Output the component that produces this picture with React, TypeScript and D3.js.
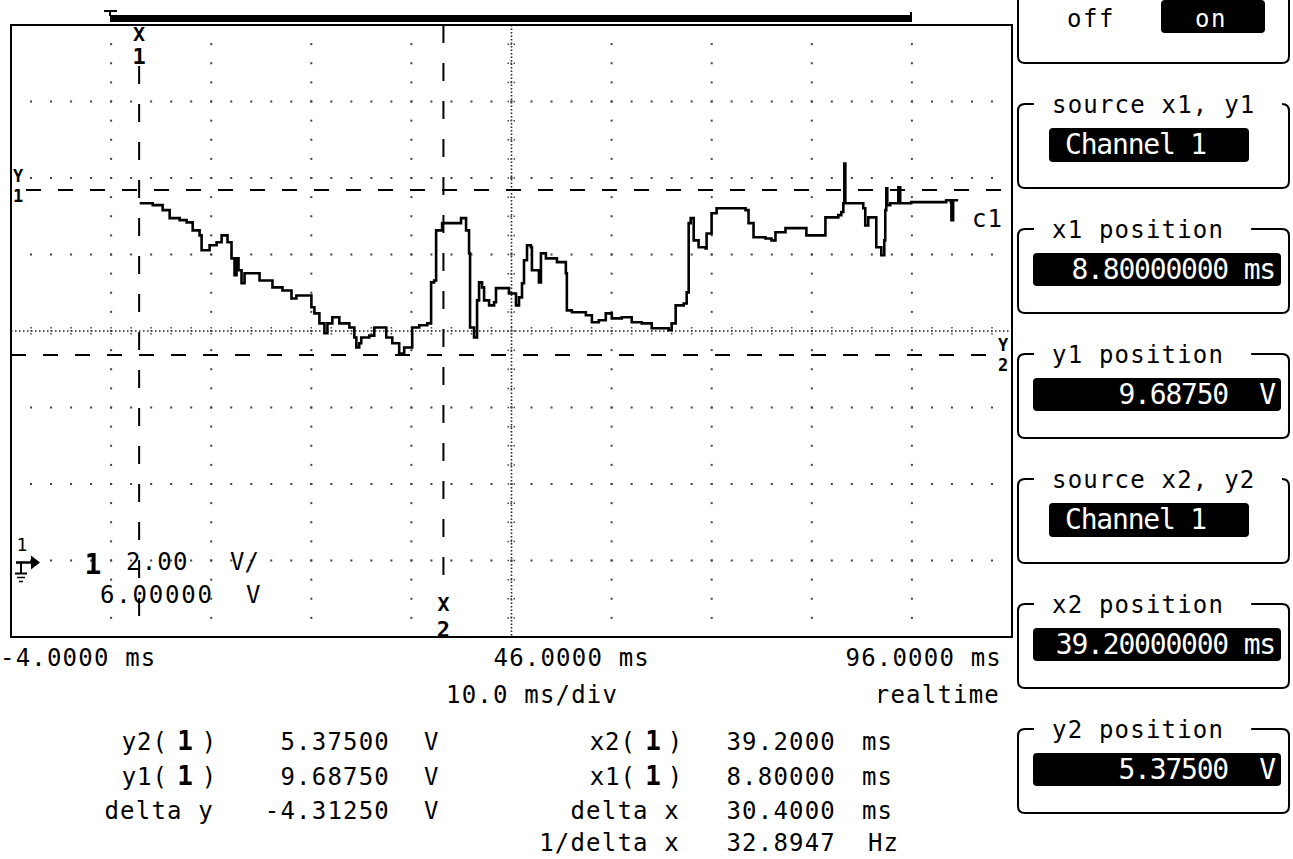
import * as d3 from 'd3'

const W = 1293
const H = 859
const plot = { left: 11, top: 25, right: 1012, bottom: 637 }
const FONT = "'DejaVu Sans Mono', 'Liberation Mono', monospace"

// scope settings: 10 ms/div starting at -4 ms, 2 V/div with 6 V offset
const timeDomain = [-4, 96]
const voltDomain = [-2, 14]
const divX = 10
const divY = 8

const timeLabelValues = [-4, 46, 96]
const timeLabels = ['-4.0000 ms', '46.0000 ms', '96.0000 ms']

const cursorX = [8.8, 39.2] // x1, x2 (ms)
const cursorY = [9.6875, 5.375] // y1, y2 (V)

// channel 1 trace
const traceTime = [
  8.86, 10.16, 11.15, 11.85, 12.85, 13.35, 13.55, 14.15, 14.84, 15.04, 15.84, 16.54, 17.04, 17.63,
  18.03, 18.33, 18.53, 18.73, 19.03, 19.33, 19.83, 20.83, 22.12, 23.12, 24.02, 24.51, 25.51, 26.01,
  26.31, 26.81, 27.31, 27.61, 28.1, 28.8, 29.8, 30.3, 30.5, 30.79, 30.99, 31.79, 32.29, 32.79,
  33.49, 34.09, 34.78, 35.28, 35.78, 36.08, 36.78, 37.58, 37.97, 38.27, 38.47, 39.07, 40.47, 40.96,
  41.46, 41.76, 41.86, 42.26, 42.56, 42.76, 43.06, 43.26, 43.76, 44.26, 44.45, 45.05, 45.75, 46.45,
  46.75, 47.05, 47.25, 47.55, 47.94, 48.04, 48.74, 48.94, 49.44, 50.54, 51.43, 51.53, 52.03, 53.43,
  54.03, 54.72, 55.42, 56.02, 57.02, 58.01, 59.01, 60.01, 61.7, 62.0, 62.4, 63.2, 63.5, 63.7,
  63.9, 64.2, 64.69, 65.39, 65.49, 65.99, 66.49, 67.98, 69.38, 69.68, 70.18, 71.37, 71.97, 72.37,
  73.37, 75.36, 75.46, 76.96, 77.36, 78.65, 78.95, 79.15, 79.25, 79.35, 80.65, 81.14, 81.34, 81.64,
  82.34, 82.44, 82.94, 83.24, 83.34, 83.44, 83.54, 83.84, 84.64, 84.83, 85.93, 87.33, 88.92, 89.42,
  89.9, 89.95, 90.12, 90.62,
]
const traceVolt = [
  9.34, 9.29, 9.16, 8.95, 8.9, 8.9, 8.84, 8.63, 8.5, 8.11, 8.24, 8.32, 8.5, 8.32,
  7.9, 7.46, 7.9, 7.59, 7.25, 7.51, 7.51, 7.32, 7.14, 7.06, 6.85, 6.93, 6.93, 6.62,
  6.46, 6.2, 5.94, 6.2, 6.36, 6.2, 6.09, 5.83, 5.57, 5.68, 5.83, 5.88, 6.09, 6.09,
  5.83, 5.68, 5.41, 5.57, 5.57, 6.09, 6.15, 6.2, 7.27, 7.32, 8.63, 8.82, 8.82, 8.95,
  8.63, 8.03, 6.09, 5.83, 6.8, 7.27, 7.14, 6.8, 6.67, 6.75, 7.12, 7.12, 6.98, 6.67,
  6.88, 7.25, 7.85, 8.24, 8.19, 7.59, 7.27, 8.03, 7.9, 7.8, 7.51, 6.54, 6.49, 6.41,
  6.23, 6.28, 6.46, 6.33, 6.36, 6.23, 6.2, 6.07, 6.02, 6.2, 6.67, 6.72, 7.01, 8.82,
  8.95, 8.37, 8.19, 8.16, 8.55, 9.08, 9.21, 9.21, 9.16, 8.82, 8.45, 8.42, 8.37, 8.58,
  8.69, 8.69, 8.5, 8.5, 8.97, 9.03, 9.11, 9.34, 10.38, 9.34, 9.34, 9.21, 8.76, 8.97,
  8.97, 8.19, 7.98, 8.37, 9.16, 9.73, 9.29, 9.34, 9.76, 9.34, 9.37, 9.37, 9.37, 9.42,
  9.37, 8.9, 9.42, 9.42,
]

const leftNames = ['y2', 'y1', 'delta y']
const leftValues = ['5.37500', '9.68750', '-4.31250']
const rightNames = ['x2', 'x1', 'delta x', '1/delta x']
const rightValues = ['39.2000', '8.80000', '30.4000', '32.8947']
const rightUnits = ['ms', 'ms', 'ms', 'Hz']

const panelLabels = ['', 'source x1, y1', 'x1 position', 'y1 position', 'source x2, y2', 'x2 position', 'y2 position']
const panelValues = ['on', 'Channel 1', '8.80000000 ms', '9.68750  V', 'Channel 1', '39.20000000 ms', '5.37500  V']

const x = d3.scaleLinear().domain(timeDomain).range([plot.left, plot.right])
const y = d3.scaleLinear().domain(voltDomain).range([plot.bottom, plot.top])

const pre = { whiteSpace: 'pre' as const }

function Grid() {
  const stepX = (plot.right - plot.left) / divX
  const stepY = (plot.bottom - plot.top) / divY
  const dots: JSX.Element[] = []
  for (let j = 1; j < divY; j++) {
    if (j === divY / 2) continue
    const gy = plot.top + j * stepY
    for (let k = 1; k < divX * 5; k++) {
      dots.push(<rect key={`r${j}-${k}`} x={plot.left + (k * stepX) / 5 - 1} y={gy - 1} width={2} height={2} fill="#444" />)
    }
  }
  for (let i = 1; i < divX; i++) {
    if (i === divX / 2) continue
    const gx = plot.left + i * stepX
    for (let k = 1; k < divY * 4; k++) {
      dots.push(<rect key={`c${i}-${k}`} x={gx - 1} y={plot.top + (k * stepY) / 4 - 1} width={2} height={2} fill="#444" />)
    }
  }
  const cx = plot.left + (divX / 2) * stepX
  const cy = plot.top + (divY / 2) * stepY
  const ticks: JSX.Element[] = []
  for (let k = 1; k < divX * 5; k++) {
    const tx = plot.left + (k * stepX) / 5
    ticks.push(<line key={`tx${k}`} x1={tx} x2={tx} y1={cy - 4} y2={cy + 4} stroke="#444" strokeWidth={1.5} strokeDasharray="1.5 1.5" />)
  }
  for (let k = 1; k < divY * 4; k++) {
    const ty = plot.top + (k * stepY) / 4
    ticks.push(<line key={`ty${k}`} y1={ty} y2={ty} x1={cx - 4} x2={cx + 4} stroke="#444" strokeWidth={1.5} strokeDasharray="1.5 1.5" />)
  }
  return (
    <g>
      {dots}
      <line x1={plot.left} x2={plot.right} y1={cy} y2={cy} stroke="#222" strokeWidth={1.6} strokeDasharray="1.5 2.5" />
      <line x1={cx} x2={cx} y1={plot.top} y2={plot.bottom} stroke="#222" strokeWidth={1.6} strokeDasharray="1.5 2" />
      {ticks}
    </g>
  )
}

function Cursors() {
  const [x1, x2] = cursorX.map(x)
  const [y1, y2] = cursorY.map(y)
  return (
    <g fontFamily={FONT} fontWeight="bold" textAnchor="middle">
      <line x1={x1} x2={x1} y1={66} y2={plot.bottom} stroke="#000" strokeWidth={2} strokeDasharray="18 20" />
      <line x1={x2} x2={x2} y1={plot.top} y2={590} stroke="#000" strokeWidth={2} strokeDasharray="18 20" />
      <line x1={26} x2={plot.right} y1={y1} y2={y1} stroke="#000" strokeWidth={2} strokeDasharray="15 17" />
      <line x1={plot.left} x2={996} y1={y2} y2={y2} stroke="#000" strokeWidth={2} strokeDasharray="15 17" />
      <text x={x1} y={41} fontSize={20}>X</text>
      <text x={x1} y={64} fontSize={22}>1</text>
      <text x={x2} y={611} fontSize={20}>X</text>
      <text x={x2} y={637} fontSize={22}>2</text>
      <text x={18} y={182} fontSize={17}>Y</text>
      <text x={18} y={202} fontSize={17}>1</text>
      <text x={1003} y={351} fontSize={17}>Y</text>
      <text x={1003} y={371} fontSize={17}>2</text>
    </g>
  )
}

function Trace() {
  const pts = traceTime.map((t, i) => [t, traceVolt[i]] as [number, number])
  const line = d3.line<[number, number]>().x(d => x(d[0])).y(d => y(d[1])).curve(d3.curveStepAfter)
  return <path d={line(pts) ?? ''} fill="none" stroke="#000" strokeWidth={2.6} strokeLinejoin="miter" />
}

function ScaleLabels() {
  const g = y(0)
  return (
    <g fontFamily={FONT} fill="#000">
      <text x={22} y={551} fontSize={18} textAnchor="middle">1</text>
      <line x1={16} x2={34} y1={g + 2} y2={g + 2} stroke="#000" strokeWidth={2.5} />
      <path d={`M31,${g - 5} L40,${g + 2} L31,${g + 9} Z`} fill="#000" />
      <line x1={21} x2={21} y1={g + 2} y2={g + 13} stroke="#000" strokeWidth={2} />
      <line x1={15} x2={27} y1={g + 13} y2={g + 13} stroke="#000" strokeWidth={2} />
      <line x1={17} x2={25} y1={g + 17} y2={g + 17} stroke="#000" strokeWidth={1.5} />
      <line x1={19} x2={23} y1={g + 21} y2={g + 21} stroke="#000" strokeWidth={1.5} />
      <text x={93} y={574} fontSize={28} fontWeight="bold" textAnchor="middle">1</text>
      <text x={126} y={570} fontSize={24} letterSpacing={1.2}>2.00</text>
      <text x={230} y={570} fontSize={24}>V/</text>
      <text x={100} y={603} fontSize={24} letterSpacing={1.8}>6.00000</text>
      <text x={246} y={603} fontSize={24}>V</text>
      <text x={972} y={227} fontSize={24} letterSpacing={1}>c1</text>
    </g>
  )
}

function AxisText() {
  const anchors = ['start', 'start', 'end']
  const xs = [0, x(timeLabelValues[1]) - 18, 1002]
  return (
    <g fontFamily={FONT} fontSize={24} letterSpacing={1.2} fill="#000">
      {timeLabels.map((t, i) => (
        <text key={t} x={xs[i]} y={666} textAnchor={anchors[i]}>{t}</text>
      ))}
      <text x={446} y={703}>10.0 ms/div</text>
      <text x={1000} y={703} textAnchor="end">realtime</text>
    </g>
  )
}

function Measurements() {
  const rowY = [750, 785, 819, 851]
  return (
    <g fontFamily={FONT} fontSize={24} fill="#000">
      {leftNames.map((n, i) => (
        <g key={n}>
          {n.length === 2 ? (
            <>
              <text x={168} y={rowY[i]} textAnchor="end" letterSpacing={1}>{n + '('}</text>
              <text x={185} y={rowY[i]} textAnchor="middle" fontWeight="bold" fontSize={26}>1</text>
              <text x={209} y={rowY[i]} textAnchor="middle">)</text>
            </>
          ) : (
            <text x={214} y={rowY[i]} textAnchor="end" letterSpacing={1.2}>{n}</text>
          )}
          <text x={390} y={rowY[i]} textAnchor="end" letterSpacing={1.2}>{leftValues[i]}</text>
          <text x={424} y={rowY[i]}>V</text>
        </g>
      ))}
      {rightNames.map((n, i) => (
        <g key={n}>
          {n.length === 2 ? (
            <>
              <text x={636} y={rowY[i]} textAnchor="end" letterSpacing={1}>{n + '('}</text>
              <text x={653} y={rowY[i]} textAnchor="middle" fontWeight="bold" fontSize={26}>1</text>
              <text x={675} y={rowY[i]} textAnchor="middle">)</text>
            </>
          ) : (
            <text x={680} y={rowY[i]} textAnchor="end" letterSpacing={1.2}>{n}</text>
          )}
          <text x={836} y={rowY[i]} textAnchor="end" letterSpacing={1.2}>{rightValues[i]}</text>
          <text x={rightUnits[i] === 'Hz' ? 868 : 862} y={rowY[i]} letterSpacing={1}>{rightUnits[i]}</text>
        </g>
      ))}
    </g>
  )
}

function Panel() {
  const L = 1018
  const R = 1289
  const r = 7
  return (
    <g fontFamily={FONT} fill="#000">
      {panelLabels.map((label, i) => {
        const top = -21 + 125 * i
        const bot = top + 84
        const lineStart = 1052 + label.length * 15.65 + 27
        const d = `M1034,${top} L${L + r},${top} Q${L},${top} ${L},${top + r} L${L},${bot - r} Q${L},${bot} ${L + r},${bot} L${R - r},${bot} Q${R},${bot} ${R},${bot - r} L${R},${top + r} Q${R},${top} ${R - r},${top} L${Math.min(lineStart, R - r)},${top}`
        const isSource = label.startsWith('source')
        const val = panelValues[i]
        return (
          <g key={i}>
            <path d={d} fill="none" stroke="#000" strokeWidth={2} />
            {label && (
              <text x={1052} y={top + 9} fontSize={24} letterSpacing={1.2}>{label}</text>
            )}
            {i === 0 ? (
              <>
                <text x={1067} y={27} fontSize={24} letterSpacing={1.5}>off</text>
                <rect x={1161} y={0} width={104} height={33} rx={4} fill="#000" />
                <text x={1211} y={27} fontSize={24} textAnchor="middle" fill="#fff" letterSpacing={1.5}>{val}</text>
              </>
            ) : isSource ? (
              <>
                <rect x={1049} y={top + 24} width={200} height={34} rx={4} fill="#000" />
                <text x={1065} y={top + 50} fontSize={28} letterSpacing={-1.2} fill="#fff">{val}</text>
              </>
            ) : (
              <>
                <rect x={1033} y={top + 24} width={248} height={33} rx={4} fill="#000" />
                <text x={1275} y={top + 50} fontSize={28} letterSpacing={-1.2} fill="#fff" textAnchor="end" style={pre}>{val}</text>
              </>
            )}
          </g>
        )
      })}
    </g>
  )
}

export default function App() {
  return (
    <svg width={W} height={H} viewBox={`0 0 ${W} ${H}`} style={{ position: 'absolute', left: 0, top: 0, background: '#fff' }}>
      <rect width={W} height={H} fill="#fff" />
      {/* memory window bar */}
      <rect x={110} y={15} width={802} height={7} fill="#000" />
      <line x1={104} x2={117} y1={11} y2={11} stroke="#000" strokeWidth={2} />
      <line x1={110} x2={110} y1={11} y2={16} stroke="#000" strokeWidth={2} />
      <line x1={911} x2={911} y1={12} y2={20} stroke="#000" strokeWidth={2} />
      <Grid />
      <Cursors />
      <Trace />
      <ScaleLabels />
      <rect x={plot.left} y={plot.top} width={plot.right - plot.left} height={plot.bottom - plot.top} fill="none" stroke="#000" strokeWidth={2} />
      <AxisText />
      <Measurements />
      <Panel />
    </svg>
  )
}
